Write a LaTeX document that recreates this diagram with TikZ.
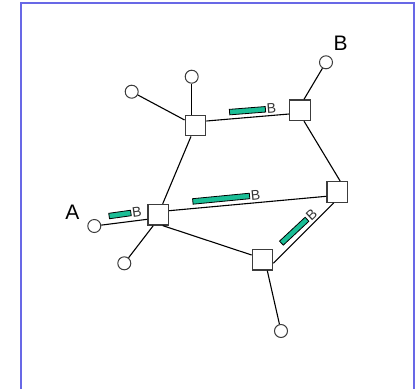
\documentclass[tikz,border=0pt]{standalone}
\usepackage{fontspec}
\setmainfont{Liberation Sans}
\definecolor{frameblue}{RGB}{104,104,230}
\definecolor{bargreen}{RGB}{26,190,150}
\definecolor{boxgray}{RGB}{60,60,60}
\begin{document}
\begin{tikzpicture}[
    x=1pt, y=-1pt,
    router/.style={draw=boxgray,fill=white,line width=1.3pt,minimum size=20.5pt,inner sep=0pt},
    host/.style={circle,draw=boxgray,fill=white,line width=1pt,minimum size=13pt,inner sep=0pt},
    link/.style={line width=1.1pt},
    bar/.style={draw=black,fill=bargreen,line width=0.8pt,minimum height=5.5pt,inner sep=0pt},
    tag/.style={font=\fontsize{14}{14}\selectfont,inner sep=0.8pt,text=black!80},
    big/.style={font=\fontsize{21}{21}\selectfont,inner sep=0pt},
  ]
  \useasboundingbox (0,0) rectangle (416,389);
  \draw[frameblue,line width=1.6pt] (21,2.8) rectangle (414,396);
  % routers
  \node[router] (S1) at (195.5,125.5) {};
  \node[router] (S2) at (300,110.2) {};
  \node[router] (S3) at (337.2,192) {};
  \node[router] (S4) at (262.5,259.8) {};
  \node[router] (S5) at (158.2,214.7) {};
  % hosts
  \node[host] (hTop) at (191.7,76.7) {};
  \node[host] (hLeft) at (131.7,91.7) {};
  \node[host] (hA) at (94.3,226) {};
  \node[host] (hLow) at (124.3,263.3) {};
  \node[host] (hBot) at (281,331) {};
  \node[host] (hB) at (326,62.3) {};
  \node[big] (labA) at (72.3,212.3) {A};
  \node[big] (labB) at (340.7,43.3) {B};
  % links between routers
  \draw[link] ([yshift=4.5pt]S1.east) -- ([yshift=-3.8pt]S2.west);
  \draw[link] ([xshift=-4.5pt]S1.south) -- ([xshift=4.5pt]S5.north);
  \draw[link] ([xshift=4pt]S2.south) -- ([xshift=3pt]S3.north);
  \draw[link] ([yshift=4pt]S5.east) -- ([yshift=-4.3pt]S3.west);
  \draw[link] ([xshift=-3.5pt]S3.south) -- ([yshift=-3.5pt]S4.east);
  \draw[link] ([xshift=4.5pt]S5.south) -- ([yshift=4.8pt]S4.west);
  % links to hosts
  \draw[link] ([yshift=-4.6pt]S5.west) -- (hA);
  \draw[link] ([xshift=-4.9pt]S5.south) -- (hLow);
  \draw[link] ([xshift=4.8pt]S4.south) -- (hBot);
  \draw[link] ([xshift=4pt]S2.north) -- (hB);
  \draw[link] ([xshift=-3.8pt]S1.north) -- (hTop);
  \draw[link] ([yshift=5.5pt]S1.west) -- (hLeft);
  % flows
  \node[bar,minimum width=36pt,rotate=4.5] (f1) at (247.5,110.7) {};
  \node[tag,rotate=4.5,anchor=west] (t1) at (f1.east) {B};
  \node[bar,minimum width=57pt,rotate=5.5] (f2) at (221.2,198.7) {};
  \node[tag,rotate=5.5,anchor=west] (t2) at (f2.east) {B};
  \node[bar,minimum width=22pt,rotate=8] (f3) at (120,214.5) {};
  \node[tag,rotate=8,anchor=west] (t3) at (f3.east) {B};
  \node[bar,minimum width=35pt,rotate=43] (f4) at (294.2,231.2) {};
  \node[tag,rotate=43,anchor=west] (t4) at (f4.east) {B};
\end{tikzpicture}
\end{document}
